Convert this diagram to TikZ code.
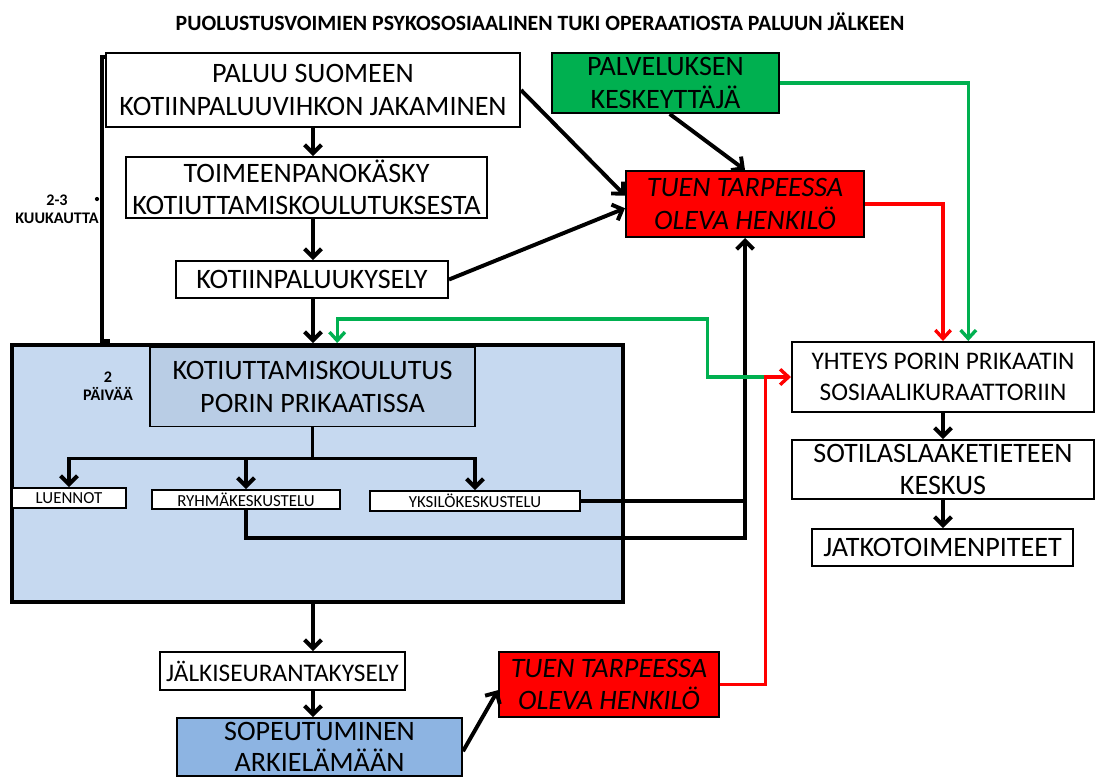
\documentclass[tikz,border=0pt]{standalone}
\usepackage{fontspec}
\setmainfont{Carlito}
\usetikzlibrary{arrows.meta}
\newcommand*{\iso   }{\fontsize{20}{23}\selectfont}
\newcommand*{\keski }{\fontsize{18}{22}\selectfont}
\newcommand*{\pieni }{\fontsize{12}{14}\selectfont}
\newcommand*{\merkki}{\fontsize{11.5}{13}\selectfont\bfseries}
\newcommand*{\otsik }{\fontsize{15.5}{17}\selectfont\bfseries}
\definecolor{vihrea}{RGB}{0,176,80}
\definecolor{punainen}{RGB}{255,0,0}
\definecolor{vaaleasin}{RGB}{198,217,240}
\definecolor{keskisin}{RGB}{185,205,229}
\definecolor{tummasin}{RGB}{141,180,226}
\tikzset{
    laatikko/.style 2 args={draw=black, line width=1.4pt, fill=white, text=black, inner sep=0pt, align=center,
        minimum width=#1*0.025cm, minimum height=#2*0.025cm},
    nuoli/.style={line width=2.8pt, -{Straight Barb[length=6pt,width=12pt]}},
    varinuoli/.style={line width=2.4pt, draw=#1, -{Straight Barb[length=6pt,width=11pt]}},
}

\begin{document}
\begin{tikzpicture}[x=0.025cm, y=-0.025cm, font=\iso]
    \useasboundingbox (0,0) rectangle (1096,778);
    \node [font=\otsik] (otsikko) at (540,22) {PUOLUSTUSVOIMIEN PSYKOSOSIAALINEN TUKI OPERAATIOSTA PALUUN JÄLKEEN};
    % vasen sarake
    \node [laatikko={414}{74}] (paluu)  at (313,90)    {PALUU SUOMEEN\\KOTIINPALUUVIHKON JAKAMINEN};
    \node [laatikko={361}{61}] (kasky)  at (306.5,187.5) {TOIMEENPANOKÄSKY\\KOTIUTTAMISKOULUTUKSESTA};
    \node [laatikko={272}{37}] (kysely) at (312,279.5) {KOTIINPALUUKYSELY};
    \draw [line width=2.8pt] (107,57) -- (102,57) -- (102,341) -- (110,341);
    \fill (97,199) circle (1.5pt);
    \node [font=\merkki, align=center] (kuukautta) at (57,209) {2-3\\KUUKAUTTA};
    % koulutus
    \node [draw=black, line width=2.8pt, fill=vaaleasin, minimum width=611*0.025cm, minimum height=257*0.025cm] (kont) at (317.5,473.5) {};
    \node [laatikko={325}{79}, fill=keskisin] (koulutus) at (312.5,387) {KOTIUTTAMISKOULUTUS\\PORIN PRIKAATISSA};
    \node [font=\merkki, align=center] (paivaa) at (108,386) {2\\PÄIVÄÄ};
    \node [laatikko={114}{20}, font=\pieni] (luennot) at (69,498)    {LUENNOT};
    \node [laatikko={188}{19}, font=\pieni] (ryhma)   at (246,499.5) {RYHMÄKESKUSTELU};
    \node [laatikko={210}{20}, font=\pieni] (yksilo)  at (475,501)   {YKSILÖKESKUSTELU};
    % jalkiseuranta
    \node [laatikko={245}{38}, font=\fontsize{18}{22}\selectfont] (jalki) at (282.5,671) {JÄLKISEURANTAKYSELY};
    \node [laatikko={285}{58}, fill=tummasin, font=\fontsize{20}{22}\selectfont] (sopeutuminen) at (319.5,747) {SOPEUTUMINEN\\ARKIELÄMÄÄN};
    % tuen tarve
    \node [laatikko={227}{60}, fill=vihrea]   (keskeyttaja) at (665.5,83) {PALVELUKSEN\\KESKEYTTÄJÄ};
    \node [laatikko={238}{66}, fill=punainen, font=\iso\itshape] (tuki)  at (745,204) {TUEN TARPEESSA\\OLEVA HENKILÖ};
    \node [laatikko={220}{65}, fill=punainen, font=\iso\itshape] (tuki2) at (609,684.5) {TUEN TARPEESSA\\OLEVA HENKILÖ};
    % oikea sarake
    \node [laatikko={302}{70}, font=\keski] (yhteys)  at (943,377)   {YHTEYS PORIN PRIKAATIN\\SOSIAALIKURAATTORIIN};
    \node [laatikko={302}{59}] (sotilas) at (943,469.5) {SOTILASLAAKETIETEEN\\KESKUS};
    \node [laatikko={261}{37}] (jatko)   at (942.5,547.5) {JATKOTOIMENPITEET};

    \draw [nuoli] (paluu.south) -- (paluu.south |- kasky.north);
    \draw [nuoli] (paluu.south |- kasky.south) -- (paluu.south |- kysely.north);
    \draw [nuoli] (paluu.south |- kysely.south) -- (paluu.south |- kont.north);
    \draw [nuoli] (paluu.east) -- ([yshift=6pt]tuki.west);
    \draw [nuoli] (kysely.east) -- ([yshift=-3pt]tuki.west);
    \draw [nuoli] ([xshift=3pt]keskeyttaja.south) -- (tuki.north);
    \draw [line width=2.8pt] (koulutus.south) -- ++(0,31) coordinate (haara);
    \draw [nuoli] (haara) -| (luennot.north);
    \draw [nuoli] (haara) -| (ryhma.north);
    \draw [nuoli] (haara) -| (yksilo.north);
    \draw [nuoli] (ryhma.south) -- ++(0,28) -| (tuki.south);
    \draw [line width=2.8pt] (yksilo.east) -- (tuki.south |- yksilo.east);
    \draw [nuoli] (paluu.south |- kont.south) -- (paluu.south |- jalki.north);
    \draw [nuoli] (paluu.south |- jalki.south) -- (paluu.south |- sopeutuminen.north);
    \draw [nuoli] ([yshift=-3pt]sopeutuminen.east) -- ([yshift=-4pt]tuki2.west);
    \draw [nuoli] (yhteys.south) -- (yhteys.south |- sotilas.north);
    \draw [nuoli] (sotilas.south) -- (sotilas.south |- jatko.north);
    % varilliset
    \draw [varinuoli=vihrea]   (keskeyttaja.east) -| ([xshift=18pt]yhteys.north);
    \draw [varinuoli=punainen] (tuki.east) -| (yhteys.north);
    \coordinate (risteys) at ([xshift=-18pt]yhteys.west);
    \draw [varinuoli=vihrea]   (risteys) -- ++(-58,0) -- ++(0,-58) -| ([xshift=14pt]kont.north);
    \draw [varinuoli=punainen] (tuki2.east) -| (risteys) -- (yhteys.west);
\end{tikzpicture}
\end{document}
